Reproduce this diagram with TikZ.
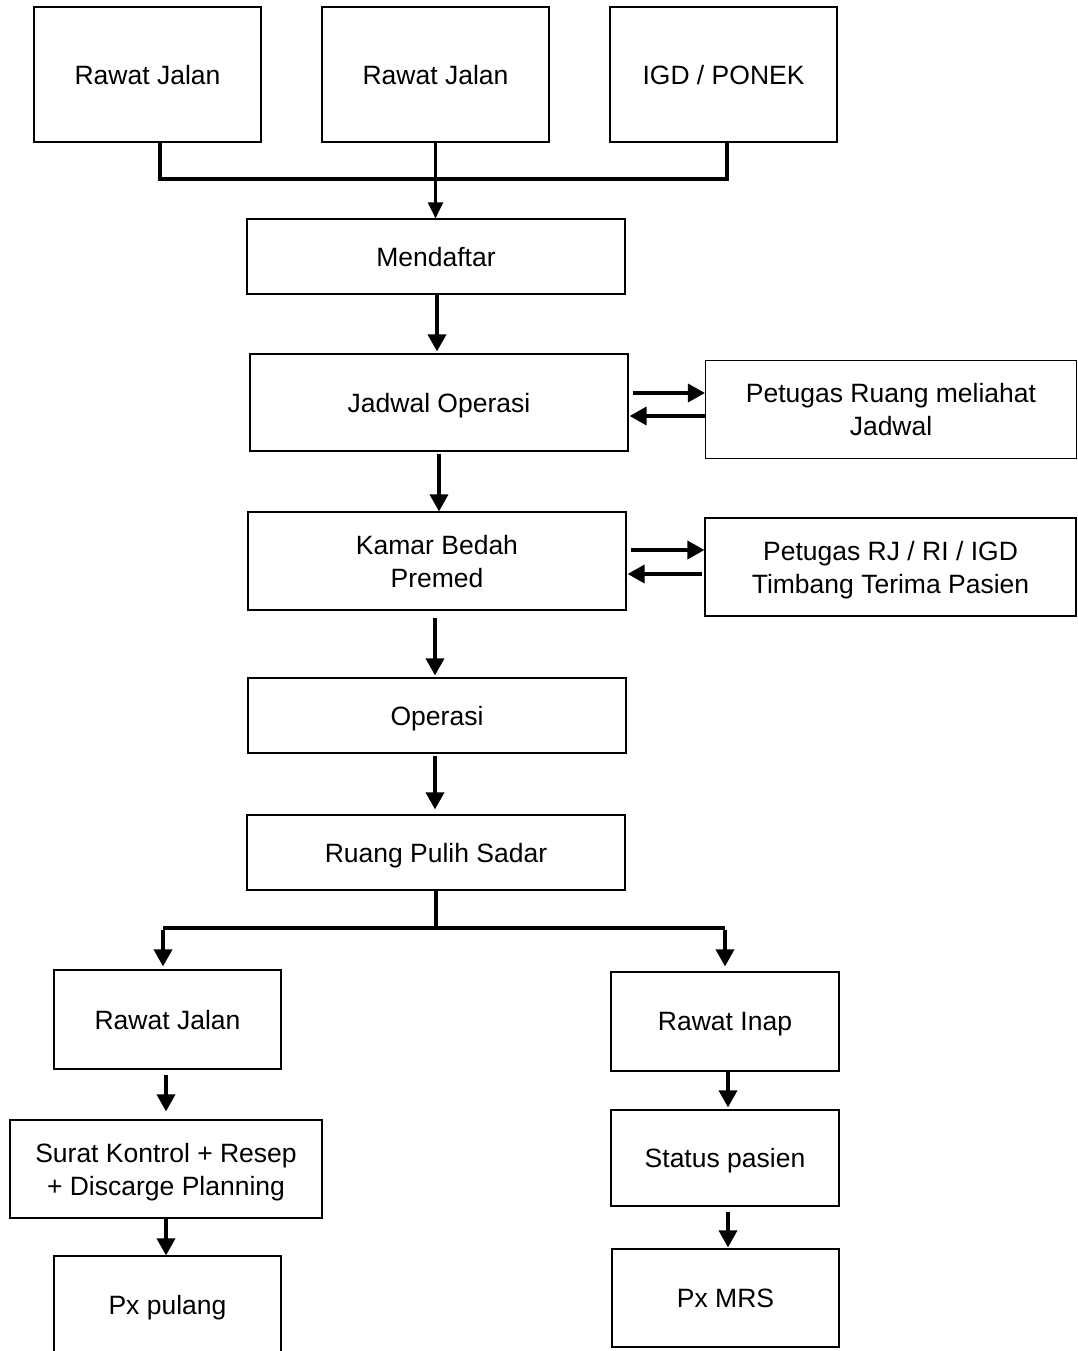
\documentclass[tikz,border=0pt]{standalone}
\usepackage{fontspec}
\setmainfont{Liberation Sans}
\usetikzlibrary{arrows.meta}
\begin{document}
\begin{tikzpicture}[x=1pt,y=-1pt,
  box/.style={draw, line width=1.2pt, inner sep=0pt, align=center,
    text depth=0pt, font=\fontsize{26.5}{33}\selectfont},
  wide/.style={box, minimum width=378pt},
  narrow/.style={box, minimum width=227pt},
  side/.style={box, minimum width=371pt, minimum height=98pt},
  tip/.style={-{Triangle[length=17pt,width=18pt]}},
  arr/.style={tip, line width=3.6pt},
  thinarr/.style={-{Triangle[length=16pt,width=15pt]}, line width=2.2pt},
  bline/.style={line width=3.4pt, line join=miter}]
\useasboundingbox (0,0) rectangle (1077,1351);

% sources
\node[narrow, minimum height=135pt] (r1) at (147.5,74.5) {Rawat Jalan};
\node[narrow, minimum height=135pt] (r2) at (435.5,74.5) {Rawat Jalan};
\node[narrow, minimum height=135pt] (r3) at (723.5,74.5) {IGD / PONEK};

% main column
\node[wide, minimum height=75pt] (daftar) at (436,256.5) {Mendaftar};
\node[wide, minimum height=97pt] (jadwal) at (439,402.5) {Jadwal Operasi};
\node[side] (lihat) at (891,409.5) {Petugas Ruang meliahat\\Jadwal};
\node[wide, minimum height=98pt] (kamar) at (437,561) {Kamar Bedah\\Premed};
\node[side] (timbang) at (890.5,567) {Petugas RJ / RI / IGD\\Timbang Terima Pasien};
\node[wide, minimum height=75pt] (operasi) at (437,715.5) {Operasi};
\node[wide, minimum height=75pt] (pulih) at (436,852.5) {Ruang Pulih Sadar};

% left branch
\node[narrow, minimum height=99pt] (rj) at (167.5,1019.5) {Rawat Jalan};
\node[box, minimum width=312pt, minimum height=98pt] (surat) at (166,1169) {Surat Kontrol + Resep\\+ Discarge Planning};
\node[narrow, minimum height=98pt] (pulang) at (167.5,1305) {Px pulang};

% right branch
\node[box, minimum width=228pt, minimum height=99pt] (ri) at (725,1021.5) {Rawat Inap};
\node[box, minimum width=228pt, minimum height=96pt] (status) at (725,1158) {Status pasien};
\node[narrow, minimum height=98pt] (mrs) at (725.5,1298) {Px MRS};

% merging bracket under the sources
\coordinate (mL) at (160,179);
\coordinate (mR) at (727,179);
\draw[bline] (r1.south -| mL) -- (mL) -- (mR) -- (r3.south -| mR);
\draw[thinarr] (r2.south) -- (r2.south |- daftar.north);

% main column arrows
\draw[arr, shorten >=2pt] (daftar.south -| 437,0) -- (jadwal.north -| 437,0);
\draw[arr, shorten <=2pt] (jadwal.south) -- (jadwal.south |- kamar.north);
\draw[arr, shorten <=7pt, shorten >=2pt] (kamar.south -| 435,0) -- (operasi.north -| 435,0);
\draw[arr, shorten <=2pt, shorten >=5pt] (operasi.south -| 435,0) -- (pulih.north -| 435,0);

% exchanges with the side boxes
\draw[arr] ([xshift=4pt,yshift=9.5pt]jadwal.east) -- ([yshift=9.5pt]jadwal.east -| lihat.west);
\draw[arr] ([yshift=-13.5pt]jadwal.east -| lihat.west) -- ([xshift=1pt,yshift=-13.5pt]jadwal.east);
\draw[arr] ([xshift=4pt,yshift=11pt]kamar.east) -- ([yshift=11pt]kamar.east -| timbang.west);
\draw[arr] ([xshift=-2pt,yshift=-13pt]kamar.east -| timbang.west) -- ([xshift=1pt,yshift=-13pt]kamar.east);

% split after recovery
\coordinate (sJ) at (436,928);
\coordinate (sL) at (163,928);
\coordinate (sR) at (725,928);
\draw[bline] (pulih.south) -- (sJ);
\draw[bline] (sL) -- (sR);
\draw[arr, shorten >=3pt] ([yshift=-1.7pt]sL) -- (sL |- rj.north);
\draw[arr, shorten >=5pt] ([yshift=-1.7pt]sR) -- (sR |- ri.north);

% left branch arrows
\draw[arr, shorten <=5pt, shorten >=8pt] (rj.south -| 166,0) -- (surat.north -| 166,0);
\draw[arr] (surat.south -| 166,0) -- (pulang.north -| 166,0);

% right branch arrows
\draw[arr, shorten >=2pt] (ri.south -| 728,0) -- (status.north -| 728,0);
\draw[arr, shorten <=5pt, shorten >=1pt] (status.south -| 728,0) -- (mrs.north -| 728,0);
\end{tikzpicture}
\end{document}
